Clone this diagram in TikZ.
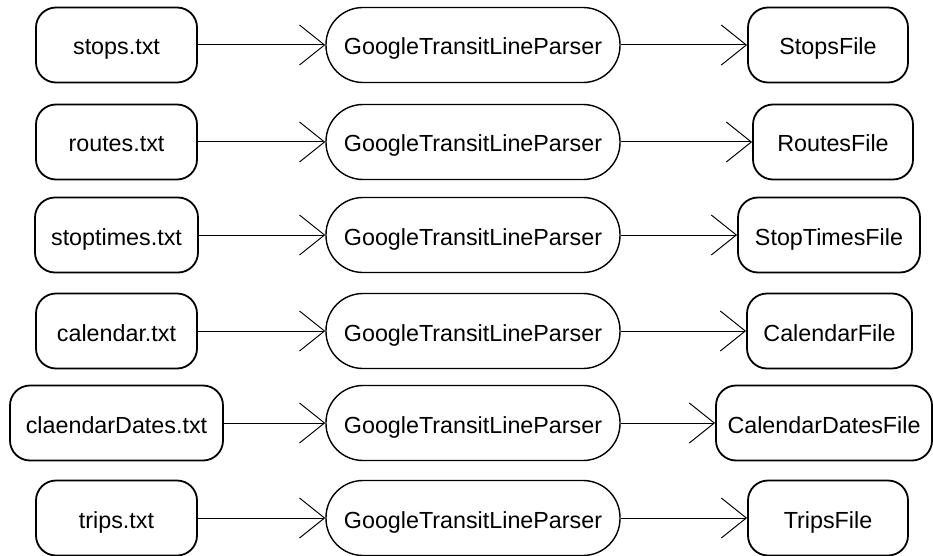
\documentclass[tikz,border=0pt]{standalone}
\usepackage{fontspec}
\setmainfont{Liberation Sans}
\usetikzlibrary{arrows.meta}
\begin{document}
\begin{tikzpicture}[x=1pt,y=-1pt,
  label font/.style={font=\fontsize{23.3}{27}\selectfont, text height=20pt, text depth=0pt},
  filebox/.style={draw, line width=1.8pt, rounded corners=20pt,
    minimum height=75pt, inner sep=0pt, label font},
  parser/.style={draw, line width=1.4pt, rounded corners=37pt,
    minimum width=294pt, minimum height=75pt, inner sep=0pt, label font},
  flow/.style={line width=1pt, -{Straight Barb[length=25pt,width=40pt]}}]
\useasboundingbox (0,0) rectangle (933,556);

% input files
\node[filebox, minimum width=161pt] (in1) at (116.5,45)  {stops.txt};
\node[filebox, minimum width=161pt] (in2) at (116.5,142) {routes.txt};
\node[filebox, minimum width=163pt] (in3) at (116.5,235) {stoptimes.txt};
\node[filebox, minimum width=161pt] (in4) at (116.5,331) {calendar.txt};
\node[filebox, minimum width=213pt] (in5) at (116.5,423) {claendarDates.txt};
\node[filebox, minimum width=161pt] (in6) at (116.5,518) {trips.txt};

% parsers
\foreach \i/\y in {1/45,2/142,3/235,4/331,5/423,6/518}
  \node[parser] (p\i) at (473,\y) {GoogleTransitLineParser};

% output files
\node[filebox, minimum width=160pt] (out1) at (828,45)   {StopsFile};
\node[filebox, minimum width=160pt] (out2) at (833,142)  {RoutesFile};
\node[filebox, minimum width=182pt] (out3) at (829,235)  {StopTimesFile};
\node[filebox, minimum width=165pt] (out4) at (829.5,331) {CalendarFile};
\node[filebox, minimum width=216pt] (out5) at (824,423)  {CalendarDatesFile};
\node[filebox, minimum width=160pt] (out6) at (828,518)  {TripsFile};

% connectors
\foreach \i in {1,...,6} {
  \draw[flow] (in\i) -- (p\i);
  \draw[flow] (p\i) -- (out\i);
}
\end{tikzpicture}
\end{document}
